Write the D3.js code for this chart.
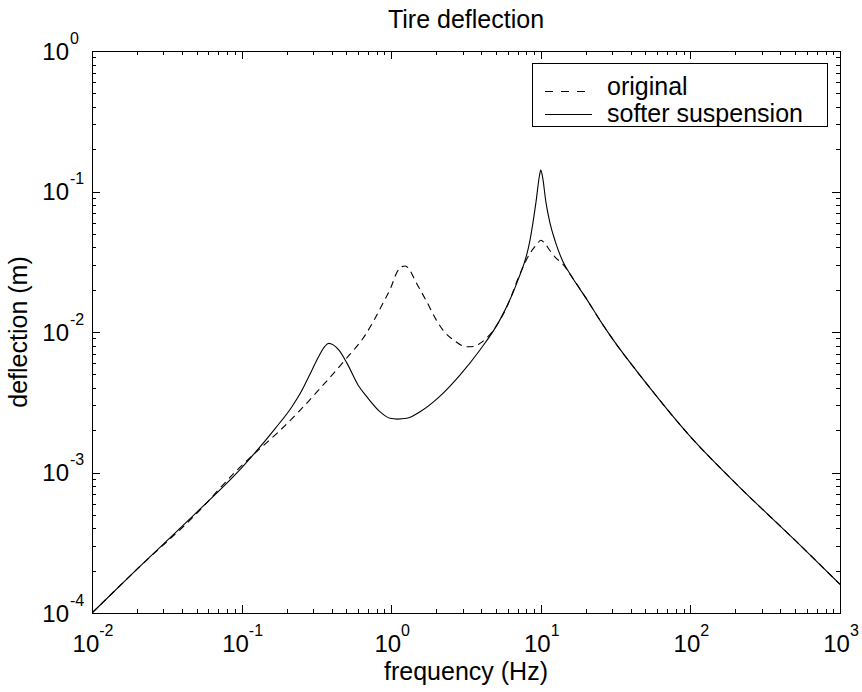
<!DOCTYPE html>
<html><head><meta charset="utf-8">
<script src="https://cdn.jsdelivr.net/npm/d3@7"></script>
<style>body{margin:0;background:#fff}svg{display:block}text{font-family:"Liberation Sans",Arial,Helvetica,sans-serif;fill:#000}</style>
</head><body><svg id="c" width="862" height="692"></svg>
<script>
const title = "Tire deflection";
const xLabel = "frequency (Hz)";
const yLabel = "deflection (m)";
const legendLabels = ["original", "softer suspension"];
const xTickExps = [-2, -1, 0, 1, 2, 3];
const yTickExps = [-4, -3, -2, -1, 0];

const softFreq = [0.01,0.02,0.05,0.1,0.168,0.217,0.25,0.281,0.327,0.36,0.382,0.41,0.446,0.507,0.6,0.686,0.84,0.98,1.1,1.27,1.56,2.12,2.88,3.92,5.33,6.9,8.47,9.3,9.8,10,10.3,10.8,11.5,12.5,14,16,20,25,30,50,100,200,500,1000];
const softVal  = [1.0e-4,2.05e-4,5.2e-4,1.08e-3,2.06e-3,2.94e-3,3.75e-3,4.8e-3,6.67e-3,7.9e-3,8.3e-3,8.1e-3,7.45e-3,5.98e-3,4.2e-3,3.47e-3,2.71e-3,2.43e-3,2.40e-3,2.43e-3,2.71e-3,3.5e-3,4.94e-3,7.45e-3,0.0122,0.0222,0.045,0.085,0.13,0.142,0.125,0.085,0.06,0.044,0.032,0.025,0.0175,0.012,9.0e-3,4.4e-3,1.8e-3,8.4e-4,3.3e-4,1.6e-4];

const origFreq = [0.01,0.02,0.05,0.0908,0.13,0.177,0.241,0.327,0.49,0.67,0.88,1.0,1.09,1.18,1.24,1.32,1.44,1.73,2.0,2.22,2.61,3.17,3.6,3.92,4.82,5.93,7.29,8.47,9.4,10,10.6,11.5,12.5,14,16,20,25,30,50,100,200,500,1000];
const origVal  = [1.0e-4,2.05e-4,5.1e-4,1.01e-3,1.45e-3,1.95e-3,2.71e-3,3.86e-3,6.3e-3,9.5e-3,0.016,0.021,0.0265,0.0292,0.0295,0.028,0.0234,0.0164,0.0122,0.0103,8.77e-3,7.86e-3,7.9e-3,8.3e-3,0.0103,0.0151,0.0262,0.0363,0.042,0.045,0.043,0.038,0.034,0.0305,0.025,0.0175,0.012,9.0e-3,4.4e-3,1.8e-3,8.4e-4,3.3e-4,1.6e-4];

const svg = d3.select("#c");
const L = 92, R = 840, T = 51, B = 613;
const x = d3.scaleLog().domain([1e-2, 1e3]).range([L, R]);
const y = d3.scaleLog().domain([1e-4, 1e0]).range([B, T]);

// minor + major ticks
const minorX = [], minorY = [];
for (let e = -2; e < 3; e++) for (let m = 2; m <= 9; m++) minorX.push(m * Math.pow(10, e));
for (let e = -4; e < 0; e++) for (let m = 2; m <= 9; m++) minorY.push(m * Math.pow(10, e));
const g = svg.append("g").attr("stroke", "#000").attr("stroke-width", 1).attr("shape-rendering", "crispEdges");
const majLen = 8, minLen = 4;
xTickExps.forEach(e => { const px = Math.round(x(Math.pow(10, e))) + 0.5;
  g.append("line").attr("x1", px).attr("x2", px).attr("y1", B).attr("y2", B - majLen);
  g.append("line").attr("x1", px).attr("x2", px).attr("y1", T).attr("y2", T + majLen); });
minorX.forEach(v => { const px = Math.round(x(v)) + 0.5;
  g.append("line").attr("x1", px).attr("x2", px).attr("y1", B).attr("y2", B - minLen);
  g.append("line").attr("x1", px).attr("x2", px).attr("y1", T).attr("y2", T + minLen); });
yTickExps.forEach(e => { const py = Math.round(y(Math.pow(10, e))) + 0.5;
  g.append("line").attr("y1", py).attr("y2", py).attr("x1", L).attr("x2", L + majLen);
  g.append("line").attr("y1", py).attr("y2", py).attr("x1", R).attr("x2", R - majLen); });
minorY.forEach(v => { const py = Math.round(y(v)) + 0.5;
  g.append("line").attr("y1", py).attr("y2", py).attr("x1", L).attr("x2", L + minLen);
  g.append("line").attr("y1", py).attr("y2", py).attr("x1", R).attr("x2", R - minLen); });
g.append("rect").attr("x", L + 0.5).attr("y", T + 0.5).attr("width", R - L).attr("height", B - T).attr("fill", "none");

// tick labels
xTickExps.forEach(e => {
  const t = svg.append("text").attr("x", x(Math.pow(10, e)) + 1).attr("y", 652).attr("text-anchor", "middle").attr("font-size", 24);
  t.append("tspan").text("10");
  t.append("tspan").attr("dy", -16).attr("font-size", 16).text(String(e));
});
yTickExps.forEach(e => {
  const py = y(Math.pow(10, e));
  svg.append("text").attr("x", 69).attr("y", py + 8.5).attr("text-anchor", "end").attr("font-size", 24).text("10");
  svg.append("text").attr("x", 70).attr("y", py + 8.5 - 16).attr("font-size", 16).text(String(e));
});

// curves
const line = d3.line().x(d => x(d[0])).y(d => y(d[1])).curve(d3.curveMonotoneX);
const cp = svg.append("clipPath").attr("id", "clip").append("rect").attr("x", L).attr("y", T).attr("width", R - L).attr("height", B - T);
const plot = svg.append("g").attr("clip-path", "url(#clip)");
plot.append("path").attr("d", line(origFreq.map((f, i) => [f, origVal[i]]))).attr("fill", "none").attr("stroke", "#000").attr("stroke-width", 1.1).attr("stroke-dasharray", "7,5");
plot.append("path").attr("d", line(softFreq.map((f, i) => [f, softVal[i]]))).attr("fill", "none").attr("stroke", "#000").attr("stroke-width", 1.1);

// legend
const lg = svg.append("g");
lg.append("rect").attr("x", 532.5).attr("y", 63.5).attr("width", 295).attr("height", 63).attr("fill", "#fff").attr("stroke", "#000").attr("shape-rendering", "crispEdges");
lg.append("line").attr("x1", 545).attr("x2", 592).attr("y1", 91.5).attr("y2", 91.5).attr("stroke", "#000").attr("stroke-dasharray", "8,8");
lg.append("line").attr("x1", 545).attr("x2", 592).attr("y1", 114.5).attr("y2", 114.5).attr("stroke", "#000");
lg.append("text").attr("x", 607).attr("y", 95).attr("font-size", 25).text(legendLabels[0]);
lg.append("text").attr("x", 607).attr("y", 122).attr("font-size", 25).text(legendLabels[1]);

// titles
svg.append("text").attr("x", 466).attr("y", 28).attr("text-anchor", "middle").attr("font-size", 25).text(title);
svg.append("text").attr("x", 466).attr("y", 680).attr("text-anchor", "middle").attr("font-size", 25).text(xLabel);
svg.append("text").attr("transform", "translate(27,332) rotate(-90)").attr("text-anchor", "middle").attr("font-size", 25).text(yLabel);
</script></body></html>
